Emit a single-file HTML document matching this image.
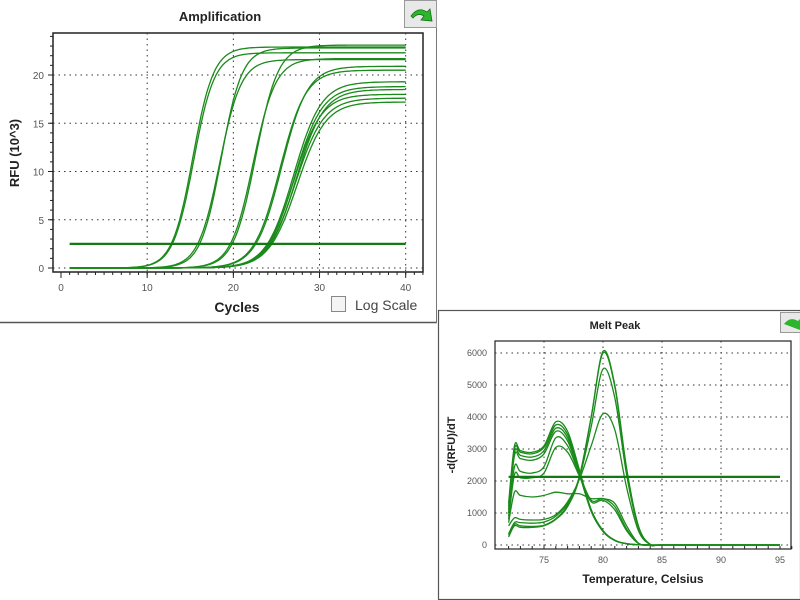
<!DOCTYPE html>
<html><head><meta charset="utf-8"><style>
body{margin:0;background:#fff;width:800px;height:600px;overflow:hidden;font-family:"Liberation Sans",sans-serif}
svg{position:absolute;left:0;top:0}
</style></head><body>
<svg width="800" height="600" id="svg">
<g>
<line x1="0" y1="322.5" x2="437" y2="322.5" stroke="#555" stroke-width="1.5"/>
<line x1="436.5" y1="28" x2="436.5" y2="323" stroke="#777"/>
<text x="220" y="21" text-anchor="middle" font-size="13" font-weight="bold" fill="#222">Amplification</text>
<g><rect x="404.5" y="0.5" width="32" height="27" fill="#e8e8e8" stroke="#999"/><path d="M411 16 Q418 6 427 12 L430 9 L432 21 L421 20 L424 16 Q418 12 413 18Z" fill="#2db52d" stroke="#176e17" stroke-width="0.8"/></g>
<rect x="53" y="33" width="370" height="239" fill="#fff" stroke="#222" stroke-width="1.5"/>
<g id="ampGrid"></g>
<g id="ampCurves"></g>
<text x="237" y="312" text-anchor="middle" font-size="14" font-weight="bold" fill="#222">Cycles</text>
<text transform="translate(19,153) rotate(-90)" text-anchor="middle" font-size="13" font-weight="bold" fill="#222">RFU (10^3)</text>
<rect x="331.5" y="296.5" width="14" height="15" fill="#f4f4f4" stroke="#888"/>
<text x="355" y="310" font-size="14" fill="#444">Log Scale</text>
</g>
<g>
<rect x="438.5" y="310.5" width="362" height="289" fill="none" stroke="#555" stroke-width="1.2"/>
<text x="615" y="329" text-anchor="middle" font-size="11" font-weight="bold" fill="#222">Melt Peak</text>
<g><rect x="780.5" y="312.5" width="22" height="20" fill="#e8e8e8" stroke="#999"/><path d="M784 324 Q790 316 798 321 L800 319 L800 330 Z" fill="#2db52d"/></g>
<rect x="495" y="341" width="296" height="208" fill="#fff" stroke="#222" stroke-width="1.2"/>
<g id="meltGrid"></g>
<g id="meltCurves"></g>
<text x="643" y="583" text-anchor="middle" font-size="12" font-weight="bold" fill="#222">Temperature, Celsius</text>
<text transform="translate(455,445) rotate(-90)" text-anchor="middle" font-size="11" font-weight="bold" fill="#222">-d(RFU)/dT</text>
</g>
</svg>
<script>
const ampMidpoints=[15.3,15.4,18.6,18.4,22.6,22.3,25.6,25.4,27.0,27.1,27.3,27.0,27.2,27.4];
const ampPlateaus=[22.9,22.3,22.8,21.6,23.1,21.7,20.9,20.5,19.3,18.8,18.5,18.0,17.6,17.2];
const ampSlopes=[1.2,1.2,1.2,1.25,1.3,1.3,1.5,1.5,1.6,1.6,1.6,1.6,1.65,1.65];
const ampThreshold=2.5;
const ampXTicks=[0,10,20,30,40];
const ampYTicks=[0,5,10,15,20];
const meltTemps=[72,72.5,73,74,75,76,77,78,79,80,81,82,83,84,85,90,95];
const meltPrimerDimer=[
[1300,3100,2950,2900,3100,3850,3550,2350,1100,450,150,40,10,0,0,0,0],
[1200,3000,2900,2850,3050,3750,3450,2300,1100,450,150,40,10,0,0,0,0],
[1100,2900,2800,2750,2950,3650,3350,2250,1050,430,140,40,10,0,0,0,0],
[1000,2800,2700,2650,2850,3550,3250,2200,1050,420,140,40,10,0,0,0,0],
[900,2450,2300,2250,2450,3350,3100,2200,1400,1450,1200,500,50,0,0,0,0],
[800,2200,2100,2100,2250,3050,2900,2150,1350,1400,1100,450,50,0,0,0,0]];
const meltProduct=[
[250,600,550,550,600,800,1200,2100,4000,6050,5000,2400,600,20,0,0,0],
[300,650,600,580,620,820,1250,2150,4000,6000,4950,2350,580,20,0,0,0],
[350,700,700,680,720,900,1300,2100,3700,5500,4600,2200,550,20,0,0,0],
[600,850,800,780,800,950,1350,2050,3100,4100,3600,1800,450,20,0,0,0]];
const meltMixed=[700,1650,1550,1500,1550,1650,1600,1600,1450,1450,1300,600,60,0,0,0,0];
const meltThreshold=2130;
const meltXTicks=[75,80,85,90,95];
const meltYTicks=[0,1000,2000,3000,4000,5000,6000];

const NS="http://www.w3.org/2000/svg";
function mk(tag,attrs,parent){const e=document.createElementNS(NS,tag);for(const k in attrs)e.setAttribute(k,attrs[k]);parent.appendChild(e);return e;}
const ax=c=>61+(c)*(405.7-61)/40;
const ay=v=>268-v*(268-75)/20;
const ag=document.getElementById('ampGrid');
ampXTicks.forEach(t=>{
 if(t>0){const l=mk('line',{x1:ax(t),y1:33,x2:ax(t),y2:272,stroke:'#333','stroke-dasharray':'1.5,4'},ag);
 
 }
 const tx=mk('text',{x:ax(t),y:291,'text-anchor':'middle','font-size':10,fill:'#555'},ag);tx.textContent=t;
 
 
 mk('line',{x1:ax(t),y1:272,x2:ax(t),y2:278,stroke:'#222'},ag);
});
for(let c=1;c<=42;c++)mk('line',{x1:ax(c),y1:272,x2:ax(c),y2:275,stroke:'#222'},ag);
ampYTicks.forEach(t=>{
 const l=mk('line',{x1:53,y1:ay(t),x2:423,y2:ay(t),stroke:'#333','stroke-dasharray':'1.5,4'},ag);
 
 
 const tx=mk('text',{x:44,y:ay(t)+4,'text-anchor':'end','font-size':10,fill:'#555'},ag);tx.textContent=t;
 
 
 mk('line',{x1:48,y1:ay(t),x2:53,y2:ay(t),stroke:'#222'},ag);
});
for(let v=0;v<=24;v++)mk('line',{x1:50,y1:ay(v),x2:53,y2:ay(v),stroke:'#222'},ag);
const ac=document.getElementById('ampCurves');
ampMidpoints.forEach((m,i)=>{
 let d='';
 for(let c=1;c<=40;c+=0.25){
  let v=ampPlateaus[i]/(1+Math.exp(-(c-m)/ampSlopes[i]));
  d+=(d?'L':'M')+ax(c).toFixed(1)+','+ay(v).toFixed(1);
 }
 const p=mk('path',{d:d,fill:'none',stroke:'#1a8a1a','stroke-width':1.3},ac);
 
 
});
const at=mk('line',{x1:ax(1),y1:ay(ampThreshold),x2:ax(40),y2:ay(ampThreshold),stroke:'#137a13','stroke-width':2.2},ac);


const mx=t=>544+(t-75)*(780-544)/20;
const my=v=>545-v*(545-353)/6000;
const mg=document.getElementById('meltGrid');
meltXTicks.forEach(t=>{
 if(t<95){const l=mk('line',{x1:mx(t),y1:341,x2:mx(t),y2:549,stroke:'#333','stroke-dasharray':'1.5,4'},mg);
 
 }
 const tx=mk('text',{x:mx(t),y:563,'text-anchor':'middle','font-size':9,fill:'#555'},mg);tx.textContent=t;
 
 
});
for(let t=72;t<=96;t++)mk('line',{x1:mx(t),y1:546,x2:mx(t),y2:549,stroke:'#222'},mg);
meltYTicks.forEach(t=>{
 const l=mk('line',{x1:495,y1:my(t),x2:791,y2:my(t),stroke:'#333','stroke-dasharray':'1.5,4'},mg);
 
 
 const tx=mk('text',{x:487,y:my(t)+3,'text-anchor':'end','font-size':9,fill:'#555'},mg);tx.textContent=t;
 
 
});
function smooth(vals){
 const pts=meltTemps.map((t,i)=>[mx(t),my(vals[i])]);
 let d='M'+pts[0][0].toFixed(1)+','+pts[0][1].toFixed(1);
 for(let i=0;i<pts.length-1;i++){
  const p0=pts[Math.max(0,i-1)],p1=pts[i],p2=pts[i+1],p3=pts[Math.min(pts.length-1,i+2)];
  const c1=[p1[0]+(p2[0]-p0[0])/6,p1[1]+(p2[1]-p0[1])/6],c2=[p2[0]-(p3[0]-p1[0])/6,p2[1]-(p3[1]-p1[1])/6];
  d+='C'+c1.map(v=>v.toFixed(1))+' '+c2.map(v=>v.toFixed(1))+' '+p2.map(v=>v.toFixed(1));
 }
 return d;
}
const mc=document.getElementById('meltCurves');
meltPrimerDimer.concat(meltProduct,[meltMixed]).forEach(s=>{
 const p=mk('path',{d:smooth(s),fill:'none',stroke:'#1a8a1a','stroke-width':1.3},mc);
 
 
});
const mt=mk('line',{x1:mx(72),y1:my(meltThreshold),x2:mx(95),y2:my(meltThreshold),stroke:'#137a13','stroke-width':2.2},mc);


</script>
</body></html>
